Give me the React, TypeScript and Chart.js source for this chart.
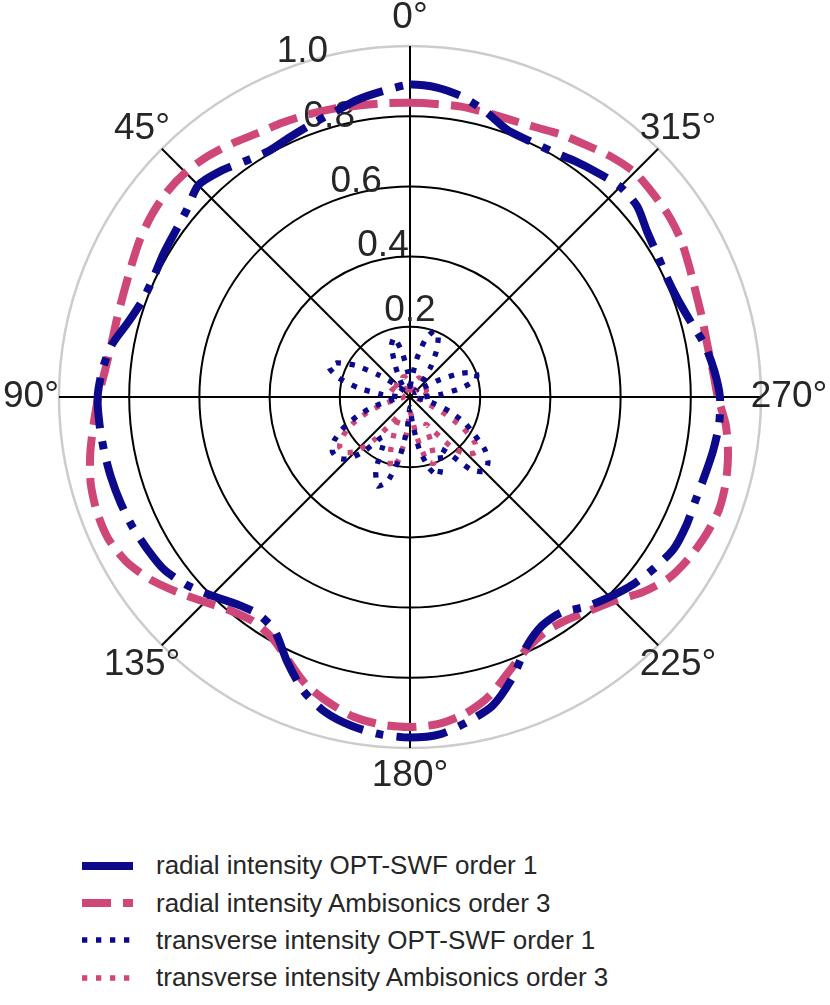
import { useEffect, useRef } from 'react';
import Chart from 'chart.js/auto';

// angles in degrees, counter-clockwise from the top (matplotlib polar style)
const ANGLES = Array.from({ length: 72 }, (_, i) => i * 5);
const MAJOR_ANGLES = [0, 45, 90, 135, 180, 225, 270, 315];
const TICK_VALUES = [0.2, 0.4, 0.6, 0.8, 1.0];
const TICK_LABELS = ['0.2', '0.4', '0.6', '0.8', '1.0'];

const SERIES_NAMES = [
  'radial intensity OPT-SWF order 1',
  'radial intensity Ambisonics order 3',
  'transverse intensity OPT-SWF order 1',
  'transverse intensity Ambisonics order 3',
];

const radialOpt = [
  0.89, 0.875, 0.86, 0.84, 0.826, 0.815, 0.808, 0.82, 0.84, 0.853,
  0.83, 0.818, 0.812, 0.806, 0.81, 0.83, 0.862, 0.88, 0.89, 0.888,
  0.885, 0.882, 0.878, 0.873, 0.865, 0.856, 0.832, 0.80, 0.77, 0.755,
  0.77, 0.83, 0.89, 0.93, 0.952, 0.965, 0.97, 0.965, 0.94, 0.91,
  0.852, 0.785, 0.752, 0.75, 0.78, 0.805, 0.83, 0.85, 0.867, 0.868,
  0.865, 0.869, 0.877, 0.884, 0.883, 0.87, 0.853, 0.828, 0.812, 0.807,
  0.813, 0.824, 0.845, 0.847, 0.833, 0.82, 0.808, 0.805, 0.81, 0.84,
  0.868, 0.885,
];

const radialAmb = [
  0.838, 0.84, 0.843, 0.85, 0.856, 0.862, 0.868, 0.882, 0.896, 0.905,
  0.906, 0.9, 0.89, 0.877, 0.868, 0.864, 0.864, 0.872, 0.888, 0.905,
  0.925, 0.942, 0.95, 0.95, 0.935, 0.905, 0.865, 0.826, 0.795, 0.78,
  0.79, 0.825, 0.87, 0.9, 0.925, 0.937, 0.94, 0.935, 0.915, 0.88,
  0.83, 0.79, 0.772, 0.776, 0.795, 0.822, 0.865, 0.9, 0.918, 0.93,
  0.937, 0.932, 0.92, 0.903, 0.877, 0.866, 0.86, 0.862, 0.867, 0.878,
  0.892, 0.9, 0.903, 0.905, 0.893, 0.876, 0.863, 0.848, 0.84, 0.839,
  0.84, 0.838,
];

const transverseOpt = [
  0.03, 0.07, 0.13, 0.175, 0.155, 0.1, 0.06, 0.03, 0.02, 0.03,
  0.06, 0.11, 0.18, 0.23, 0.245, 0.21, 0.15, 0.08, 0.03, 0.03,
  0.06, 0.11, 0.16, 0.21, 0.25, 0.27, 0.27, 0.25, 0.2, 0.14,
  0.15, 0.23, 0.27, 0.25, 0.18, 0.09, 0.03, 0.07, 0.15, 0.21,
  0.24, 0.21, 0.17, 0.2, 0.27, 0.3, 0.29, 0.26, 0.21, 0.17,
  0.12, 0.07, 0.03, 0.02, 0.04, 0.09, 0.15, 0.195, 0.2, 0.16,
  0.1, 0.05, 0.02, 0.02, 0.05, 0.1, 0.15, 0.19, 0.2, 0.17,
  0.11, 0.05,
];

const transverseAmb = [
  0.02, 0.035, 0.05, 0.06, 0.06, 0.05, 0.035, 0.02, 0.02, 0.03,
  0.05, 0.065, 0.07, 0.06, 0.04, 0.025, 0.02, 0.02, 0.02, 0.02,
  0.04, 0.08, 0.13, 0.18, 0.22, 0.245, 0.245, 0.22, 0.16, 0.09,
  0.06, 0.1, 0.16, 0.21, 0.18, 0.1, 0.04, 0.06, 0.12, 0.19,
  0.2, 0.14, 0.09, 0.12, 0.19, 0.23, 0.245, 0.225, 0.17, 0.1,
  0.05, 0.03, 0.02, 0.02, 0.02, 0.035, 0.05, 0.065, 0.065, 0.05,
  0.035, 0.02, 0.02, 0.02, 0.035, 0.05, 0.06, 0.06, 0.05, 0.035,
  0.02, 0.02,
];

const NAVY = '#0c0a8a';
const PINK = '#cf4778';
const TEXT = '#262626';
const FONT = '"Liberation Sans", Arial, sans-serif';

const STYLES = [
  { color: NAVY, width: 8, dash: [51, 13, 8, 13], tension: 0.25 },
  { color: PINK, width: 8, dash: [29, 12], tension: 0.25 },
  { color: NAVY, width: 5.3, dash: [5.3, 8.7], tension: 0.2 },
  { color: PINK, width: 5.3, dash: [5.3, 8.7], tension: 0.2 },
];

// chart.js radar runs clockwise, so walk the angles backwards
const order = ANGLES.map((_, i) => (ANGLES.length - i) % ANGLES.length);
const ccw = (arr: number[]) => order.map((k) => arr[k]);

const polarLabels = {
  id: 'polarLabels',
  beforeDatasetsDraw(chart: any) {
    const r = chart.scales.r;
    const ctx = chart.ctx;
    ctx.save();
    ctx.font = `37px ${FONT}`;
    ctx.fillStyle = TEXT;
    ctx.textBaseline = 'middle';

    // radial tick labels sit along 22.5 deg, like matplotlib
    const a = ((-90 - 22.5) * Math.PI) / 180;
    ctx.textAlign = 'left';
    TICK_VALUES.forEach((v, i) => {
      const d = r.getDistanceFromCenterForValue(v);
      ctx.fillText(
        TICK_LABELS[i],
        r.xCenter + Math.cos(a) * d + 1,
        r.yCenter + Math.sin(a) * d - 21,
      );
    });

    ctx.textAlign = 'center';
    chart.data.labels.forEach((lab: string, i: number) => {
      if (!MAJOR_ANGLES.includes(ANGLES[order[i]])) return;
      const p = r.getPointPosition(i, r.drawingArea + 28);
      ctx.fillText(lab, p.x, p.y);
    });
    ctx.restore();
  },
};

const PolarChart = () => {
  const chartRef = useRef<HTMLCanvasElement>(null);

  useEffect(() => {
    if (!chartRef.current) return;
    const series = [radialOpt, radialAmb, transverseOpt, transverseAmb];
    const chart = new Chart(chartRef.current, {
      type: 'radar',
      data: {
        labels: order.map((k) => `${ANGLES[k]}°`),
        datasets: series.map((s, i) => ({
          label: SERIES_NAMES[i],
          data: ccw(s),
          borderColor: STYLES[i].color,
          borderWidth: STYLES[i].width,
          borderDash: STYLES[i].dash,
          tension: STYLES[i].tension,
          fill: false,
          pointRadius: 0,
        })),
      },
      options: {
        responsive: true,
        maintainAspectRatio: false,
        animation: false,
        layout: { padding: { left: 59, right: 69, top: 46, bottom: 74 } },
        plugins: { legend: { display: false }, tooltip: { enabled: false } },
        scales: {
          r: {
            min: 0,
            max: 1,
            ticks: { display: false, stepSize: 0.2 },
            pointLabels: { display: false },
            grid: {
              circular: true,
              color: (c: any) => (c.tick && c.tick.value > 0.99 ? '#cccccc' : '#000000'),
              lineWidth: (c: any) => (c.tick && c.tick.value > 0.99 ? 2.5 : 2),
            },
            angleLines: {
              color: (c: any) =>
                MAJOR_ANGLES.includes(ANGLES[order[c.index]]) ? '#000000' : 'rgba(0,0,0,0)',
              lineWidth: 2,
            },
          },
        },
      },
      plugins: [polarLabels],
    });

    return () => chart.destroy();
  }, []);

  return (
    <div style={{ position: 'absolute', left: 0, top: 0, width: 830, height: 822 }}>
      <canvas ref={chartRef} />
    </div>
  );
};

const Legend = () => (
  <div
    style={{
      position: 'absolute',
      left: 82,
      top: 847,
      fontFamily: FONT,
      fontSize: 26,
      color: TEXT,
    }}
  >
    {SERIES_NAMES.map((name, i) => (
      <div key={name} style={{ display: 'flex', alignItems: 'center', height: 37.4 }}>
        <svg width={51} height={10} style={{ marginRight: 23, flexShrink: 0 }}>
          <line
            x1={0}
            y1={5}
            x2={51}
            y2={5}
            stroke={STYLES[i].color}
            strokeWidth={STYLES[i].width}
            strokeDasharray={STYLES[i].dash.join(' ')}
          />
        </svg>
        <span style={{ whiteSpace: 'nowrap' }}>{name}</span>
      </div>
    ))}
  </div>
);

export default function App() {
  return (
    <div
      style={{
        position: 'absolute',
        left: 0,
        top: 0,
        width: 830,
        height: 1005,
        background: '#ffffff',
      }}
    >
      <PolarChart />
      <Legend />
    </div>
  );
}
